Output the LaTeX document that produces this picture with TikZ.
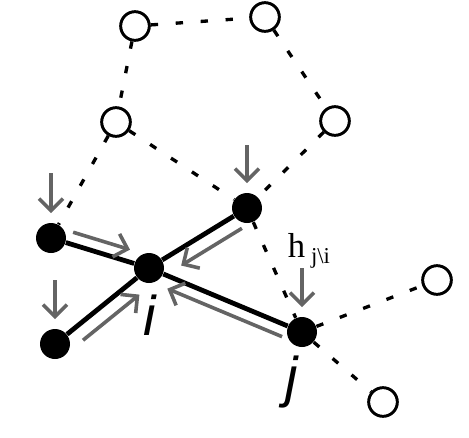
\documentclass[tikz,border=0pt]{standalone}
\usepackage{fontspec}
\setmainfont{Liberation Serif}
\newfontfamily\labelfont{Liberation Sans}
\usetikzlibrary{arrows.meta,calc}
\definecolor{msggray}{RGB}{100,100,100}
\tikzset{every picture/.style={line width=0.75pt}}
\tikzset{
  whitenode/.style={circle,draw,fill=white,line width=2.2pt,minimum size=21.5pt,inner sep=0pt},
  blacknode/.style={circle,fill=black,minimum size=22.5pt,inner sep=0pt},
  tie/.style={line width=3.6pt},
  loose/.style={line width=2.5pt,dash pattern=on 5.5pt off 13.25pt},
  msg/.style={draw=msggray,line width=2.7pt,-{Straight Barb[length=9pt,width=18pt]}},
  vlabel/.style={font=\labelfont\itshape\fontsize{42}{42}\selectfont,inner sep=0pt},
}

\begin{document}
\begin{tikzpicture}[x=0.75pt,y=0.75pt,yscale=-1,xscale=1]
\useasboundingbox (0,0) rectangle (469,437);

%Shape: Circle (outer nodes)
\node[whitenode] (ta) at (135,26) {};
\node[whitenode] (tb) at (265,17) {};
\node[whitenode] (ml) at (116,122) {};
\node[whitenode] (mr) at (335,121) {};
\node[whitenode] (ra) at (437,280) {};
\node[whitenode] (rb) at (383,402) {};
%Shape: Circle (black nodes)
\node[blacknode] (lt) at (51,238) {};
\node[blacknode] (lb) at (55,344) {};
\node[blacknode] (tr) at (247,208) {};
\node[blacknode] (i) at (149,268) {};
\node[blacknode] (j) at (302,332) {};

%Dotted Lines
\draw[loose] (ta) -- (tb);
\draw[loose] (ta) -- (ml);
\draw[loose] (tb) -- (mr);
\draw[loose] (ml) -- (lt);
\draw[loose] (ml) -- (tr);
\draw[loose] (mr) -- (tr);
\draw[loose] (tr) -- (j);
\draw[loose] (j) -- (ra);
\draw[loose] (j) -- (rb);

%Straight Lines
\draw[tie] (lt) -- (i);
\draw[tie] (lb) -- (i);
\draw[tie] (tr) -- (i);
\draw[tie] (j) -- (i);

%Arrows: incoming from above
\coordinate (ltin) at (51,173);
\coordinate (lbin) at (55,280);
\coordinate (trin) at (247,145);
\coordinate (jin) at (302,268);
\draw[msg,shorten >=7pt] (ltin) -- (lt);
\draw[msg,shorten >=7pt] (lbin) -- (lb);
\draw[msg,shorten >=7pt] (trin) -- (tr);
\draw[msg,shorten >=7pt] (jin) -- (j);

%Arrows: messages towards i
\draw[msg] ($(lt)!0.19!(i)!9pt!-90:(i)$) -- ($(lt)!0.77!(i)!9pt!-90:(i)$);
\draw[msg] ($(tr)!0.13!(i)!11pt!-90:(i)$) -- ($(tr)!0.75!(i)!11pt!-90:(i)$);
\draw[msg] ($(lb)!0.20!(i)!11pt!90:(i)$) -- ($(lb)!0.80!(i)!11pt!90:(i)$);
\draw[msg] ($(j)!0.10!(i)!9pt!-90:(i)$) -- ($(j)!0.85!(i)!9pt!-90:(i)$);

% Text Node
\node[vlabel] (ilabel) at (150,315) {i};
% Text Node
\node[vlabel] (jlabel) at (292,382) {j};
% Text Node
\node[inner sep=0pt] (hlabel) at (309,251) {\fontsize{26}{26}\selectfont h\,\raisebox{-5pt}{\fontsize{17}{17}\selectfont j\textbackslash i}};

\end{tikzpicture}
\end{document}
